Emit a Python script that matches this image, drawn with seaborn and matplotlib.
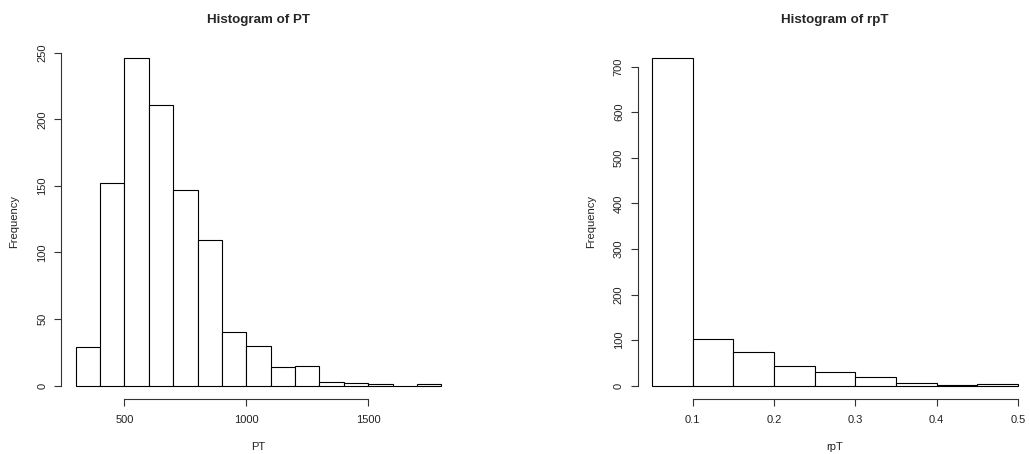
import matplotlib
matplotlib.use('Agg')
import matplotlib.pyplot as plt
import numpy as np
import pandas as pd
import seaborn as sns

# Histogram of PT: bin edges and counts
pt_edges = [300, 400, 500, 600, 700, 800, 900, 1000, 1100, 1200,
            1300, 1400, 1500, 1600, 1700, 1800]
pt_counts = [29, 152, 246, 211, 147, 109, 40, 30, 14, 15, 3, 2, 1, 0, 1]
pt_xticks = [500, 1000, 1500]
pt_yticks = [0, 50, 100, 150, 200, 250]

# Histogram of rpT
rpt_edges = [0.05, 0.10, 0.15, 0.20, 0.25, 0.30, 0.35, 0.40, 0.45, 0.50]
rpt_counts = [719, 103, 75, 43, 29, 18, 7, 2, 4]
rpt_xticks = [0.1, 0.2, 0.3, 0.4, 0.5]
rpt_yticks = [0, 100, 200, 300, 400, 500, 600, 700]

sns.set_style('ticks')
plt.rcParams['font.family'] = ['Liberation Sans', 'DejaVu Sans']

W, H = 1030, 454
fig = plt.figure(figsize=(W / 100, H / 100), dpi=100)

# plot regions in pixels, like R's par layout
top_px, bottom_px = 44.9, 398.8
panels = [
    dict(left=61.0, edges=pt_edges, counts=pt_counts, xticks=pt_xticks,
         yticks=pt_yticks, name='PT'),
    dict(left=637.5, edges=rpt_edges, counts=rpt_counts, xticks=rpt_xticks,
         yticks=rpt_yticks, name='rpT'),
]

for p in panels:
    ax = fig.add_axes([p['left'] / W, (H - bottom_px) / H,
                       395.0 / W, (bottom_px - top_px) / H])
    edges = np.array(p['edges'])
    df = pd.DataFrame({'mid': (edges[:-1] + edges[1:]) / 2, 'n': p['counts']})
    sns.histplot(data=df, x='mid', weights='n', bins=list(p['edges']), ax=ax,
                 color='white', edgecolor='black', linewidth=0.8, alpha=1)

    # R style axis ranges: 4% padding around the data
    xr = edges[-1] - edges[0]
    ax.set_xlim(edges[0] - 0.04 * xr, edges[-1] + 0.04 * xr)
    ymax = max(p['counts'])
    ax.set_ylim(-0.04 * ymax, ymax * 1.04)

    ax.set_xticks(p['xticks'])
    ax.set_yticks(p['yticks'])
    ax.set_xticklabels([f'{t:g}' for t in p['xticks']])
    ax.set_yticklabels([f'{t:g}' for t in p['yticks']], rotation=90, va='center')
    ax.spines['top'].set_visible(False)
    ax.spines['right'].set_visible(False)
    ax.spines['bottom'].set_bounds(p['xticks'][0], p['xticks'][-1])
    ax.spines['left'].set_bounds(p['yticks'][0], p['yticks'][-1])
    for s in ('bottom', 'left'):
        ax.spines[s].set_linewidth(0.8)
        ax.spines[s].set_color('#333333')
    ax.tick_params(axis='both', length=4.8, width=0.8, color='#333333',
                   labelsize=8, labelcolor='#222222')
    ax.tick_params(axis='x', pad=7)
    ax.tick_params(axis='y', pad=5)

    ax.set_title('Histogram of ' + p['name'], fontsize=9.6, fontweight='bold',
                 pad=16)
    ax.set_xlabel(p['name'], fontsize=8, color='#222222')
    ax.set_ylabel('Frequency', fontsize=8, color='#222222')
    ax.xaxis.set_label_coords(0.5, -0.122)
    ax.yaxis.set_label_coords(-0.105, 0.5)
    ax.grid(False)

fig.savefig('out.png', dpi=100, facecolor='white')
